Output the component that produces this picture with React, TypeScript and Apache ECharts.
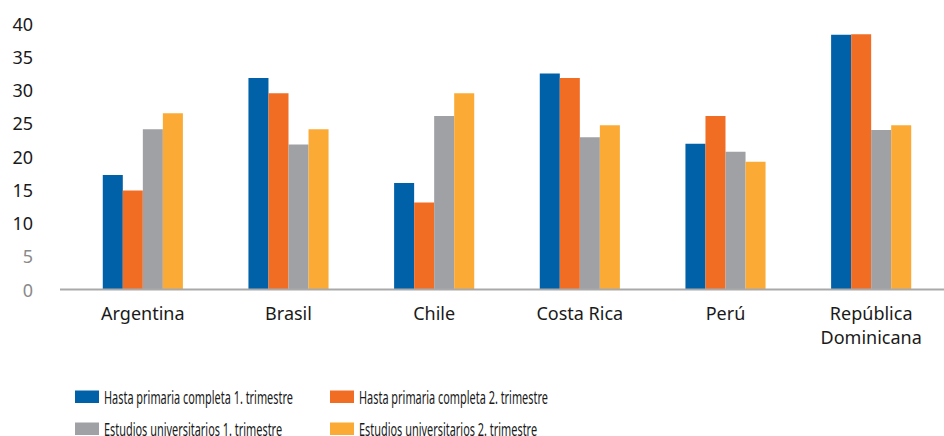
import React, { useEffect, useRef } from "react";
import * as echarts from "echarts";

// Countries on the category axis
const categories = ["Argentina", "Brasil", "Chile", "Costa Rica", "Perú", "República\nDominicana"];

// Series names
const seriesNames = [
  "Hasta primaria completa 1. trimestre",
  "Hasta primaria completa 2. trimestre",
  "Estudios universitarios 1. trimestre",
  "Estudios universitarios 2. trimestre",
];

// Values per country
const primaria1 = [17.2, 31.8, 16.0, 32.5, 21.9, 38.3];
const primaria2 = [14.9, 29.5, 13.1, 31.8, 26.1, 38.4];
const universitarios1 = [24.1, 21.8, 26.1, 22.9, 20.7, 24.0];
const universitarios2 = [26.5, 24.1, 29.5, 24.7, 19.2, 24.7];

const seriesData = [primaria1, primaria2, universitarios1, universitarios2];
const colors = ["#0061A8", "#F26D24", "#A0A1A5", "#FBAB35"];

// Y axis ticks
const yMin = 0;
const yMax = 40;
const yInterval = 5;

const FONT = '"Noto Sans", "Open Sans", sans-serif';

function measure(text: string, size: number): number {
  const c = document.createElement("canvas");
  const ctx = c.getContext("2d");
  if (!ctx) return text.length * size * 0.48;
  ctx.font = `${size}px "Noto Sans"`;
  return ctx.measureText(text).width;
}

export default function App() {
  const ref = useRef<HTMLDivElement>(null);

  useEffect(() => {
    if (!ref.current) return;
    const chart = echarts.init(ref.current, undefined, { renderer: "svg" });

    const gridTop = 23.5;
    const gridHeight = 266;
    const axisY = gridTop + gridHeight;

    // legend: narrow lettering, two columns, two rows
    const legendFont = 19;
    const natural = measure(seriesNames[0], legendFont);
    const sx = 189 / natural;
    const cols = [75, 330];
    const rows = [397, 429];
    const legendEls: any[] = [];
    seriesNames.forEach((name, i) => {
      const cx = cols[i % 2];
      const cy = rows[Math.floor(i / 2)];
      legendEls.push({
        type: "rect",
        shape: { x: cx, y: cy - 6.5, width: 24, height: 12.5 },
        style: { fill: colors[i] },
        silent: true,
      });
      legendEls.push({
        type: "text",
        x: cx + 29,
        y: cy,
        scaleX: sx,
        scaleY: 1,
        style: {
          text: name,
          fontSize: legendFont,
          fontFamily: FONT,
          fill: "#1a1a1a",
          textVerticalAlign: "middle",
          textAlign: "left",
        },
        silent: true,
      });
    });

    chart.setOption({
      animation: false,
      color: colors,
      grid: { left: 70, right: -8, top: gridTop, height: gridHeight, containLabel: false },
      xAxis: {
        type: "category",
        data: categories,
        axisLine: { show: false },
        axisTick: { show: false },
        axisLabel: {
          interval: 0,
          fontSize: 18,
          fontFamily: FONT,
          color: "#1a1a1a",
          lineHeight: 24,
          margin: 11,
        },
      },
      yAxis: {
        type: "value",
        min: yMin,
        max: yMax,
        interval: yInterval,
        splitLine: { show: false },
        axisLine: { show: false },
        axisTick: { show: false },
        axisLabel: {
          margin: 37,
          formatter: (v: number) => (v <= 5 ? `{g|${v}}` : `{d|${v}}`),
          rich: {
            d: { fontSize: 18, fontFamily: FONT, color: "#1a1a1a" },
            g: { fontSize: 18, fontFamily: FONT, color: "#8a8a8a" },
          },
        },
      },
      series: seriesData.map((data, i) => ({
        type: "bar",
        name: seriesNames[i],
        data,
        barGap: "0%",
        barCategoryGap: "45%",
        itemStyle: { color: colors[i] },
      })),
      graphic: [
        {
          type: "line",
          shape: { x1: 60, y1: axisY, x2: 944, y2: axisY },
          style: { stroke: "#a9a9a9", lineWidth: 2 },
          silent: true,
          z: 10,
        },
        ...legendEls,
      ],
    });

    return () => chart.dispose();
  }, []);

  return (
    <div
      ref={ref}
      style={{ position: "fixed", left: 0, top: 0, width: 944, height: 436, background: "#fff" }}
    />
  );
}
